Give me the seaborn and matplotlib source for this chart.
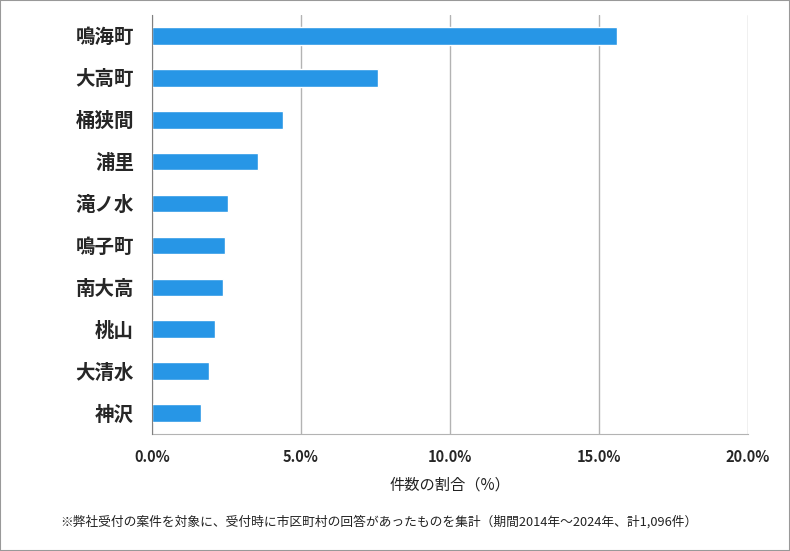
import matplotlib
matplotlib.use('Agg')
import matplotlib.pyplot as plt
import seaborn as sns
import pandas as pd
from matplotlib.ticker import FuncFormatter

# 町名と件数の割合(%)
towns = ['鳴海町', '大高町', '桶狭間', '浦里', '滝ノ水', '鳴子町', '南大高', '桃山', '大清水', '神沢']
shares = [15.6, 7.57, 4.38, 3.56, 2.55, 2.46, 2.37, 2.10, 1.92, 1.64]
x_ticks = [0, 5, 10, 15, 20]

df = pd.DataFrame({'town': towns, 'share': shares})

sns.set_style('white')
plt.rcParams['font.family'] = ['Noto Sans CJK JP', 'DejaVu Sans']

fig = plt.figure(figsize=(7.9, 5.51), dpi=100)
ax = fig.add_axes([0.1924, 0.2123, 0.7544, 0.7605])

sns.barplot(data=df, x='share', y='town', color='#2796E6', width=0.42,
            saturation=1, ax=ax, zorder=3)

ax.set_xlim(0, 20)
ax.set_xticks(x_ticks)
ax.xaxis.set_major_formatter(FuncFormatter(lambda v, p: f'{v:.1f}%'))
ax.grid(axis='x', color='#b3b3b3', linewidth=1, zorder=0)
ax.grid(axis='y', visible=False)
ax.set_ylim(len(towns) - 0.5, -0.5)

for s in ['top', 'right']:
    ax.spines[s].set_visible(False)
ax.spines['left'].set_color('#808080')
ax.spines['left'].set_zorder(5)
ax.spines['bottom'].set_color('#b3b3b3')

ax.tick_params(axis='both', length=0)
ax.tick_params(axis='x', pad=11)
ax.tick_params(axis='y', pad=13)
for lab in ax.get_xticklabels():
    lab.set_fontweight('bold')
    lab.set_fontsize(10.5)
for lab in ax.get_yticklabels():
    lab.set_fontweight('bold')
    lab.set_fontsize(14)

ax.set_ylabel('')
ax.set_xlabel('件数の割合（%）', fontsize=11, labelpad=8, color='#222222')

fig.text(0.076, 0.046,
         '※弊社受付の案件を対象に、受付時に市区町村の回答があったものを集計（期間2014年～2024年、計1,096件）',
         fontsize=9.2, color='#222222')

# 外枠
fig.patches.append(plt.Rectangle((0, 0), 1, 1, transform=fig.transFigure,
                                 fill=False, edgecolor='#999999', linewidth=1.5))

fig.savefig('out.png', dpi=100)
